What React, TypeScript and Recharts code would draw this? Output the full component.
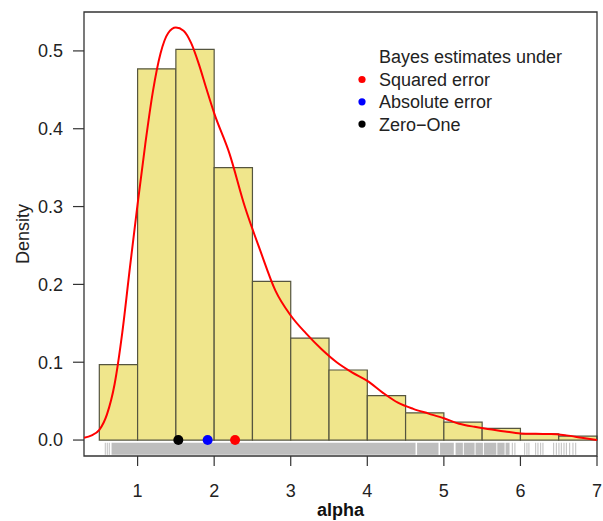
import React from 'react';
import {
    ComposedChart, XAxis, YAxis, Line, Scatter, ReferenceArea, ReferenceLine,
} from 'recharts';

// histogram bins (width 0.5) and their densities
const binStarts = [0.5, 1.0, 1.5, 2.0, 2.5, 3.0, 3.5, 4.0, 4.5, 5.0, 5.5, 6.0, 6.5];
const binDensity = [0.097, 0.477, 0.502, 0.350, 0.204, 0.131, 0.090, 0.057, 0.035, 0.023, 0.015, 0.008, 0.005];
const BIN_WIDTH = 0.5;

// kernel density estimate
const densityX = [0.3, 0.4, 0.5, 0.6, 0.7, 0.8, 0.9, 1.0, 1.1, 1.2, 1.3, 1.4, 1.5, 1.6, 1.7, 1.8, 1.9, 2.0,
    2.2, 2.4, 2.6, 2.8, 3.0, 3.2, 3.4, 3.6, 3.8, 4.0, 4.2, 4.4, 4.6, 4.8, 5.0, 5.2, 5.4, 5.6, 5.8, 6.0,
    6.2, 6.4, 6.6, 6.8, 7.0];
const densityY = [0.003, 0.006, 0.013, 0.033, 0.072, 0.138, 0.222, 0.303, 0.380, 0.448, 0.497, 0.523, 0.530,
    0.526, 0.510, 0.483, 0.451, 0.420, 0.368, 0.300, 0.244, 0.192, 0.160, 0.137, 0.117, 0.100, 0.087, 0.076,
    0.061, 0.048, 0.040, 0.034, 0.028, 0.021, 0.017, 0.014, 0.011, 0.0085, 0.008, 0.0078, 0.006, 0.003, 0.0];

// rug: dense stretches drawn as bands, sparse tail as single ticks
const rugBands = [[0.66, 4.63], [4.65, 4.93], [4.95, 5.13], [5.153, 5.248], [5.261, 5.401],
    [5.414, 5.51], [5.523, 5.685], [5.698, 5.793], [5.806, 5.858]];
const rugTicks = [0.578, 0.604, 0.63, 5.894, 5.928, 6.055, 6.085, 6.111, 6.199, 6.229, 6.264, 6.294,
    6.434, 6.469, 6.503, 6.534, 6.569, 6.6, 6.643, 6.686, 6.722];

// Bayes estimates
const estimateNames = ['Squared error', 'Absolute error', 'Zero\u2212One'];
const estimateValues = [2.273, 1.915, 1.532];
const estimateColors = ['#ff0000', '#0000ff', '#000000'];

const xTicks = [1, 2, 3, 4, 5, 6, 7];
const yTicks = [0, 0.1, 0.2, 0.3, 0.4, 0.5];

const X_DOMAIN = [0.3, 7];
const Y_DOMAIN = [-0.0205, 0.55];
const RUG_TOP = -0.0035;
const RUG_BOTTOM = -0.019;

const densityData = densityX.map((x, i) => ({ x, y: densityY[i] }));
const FONT = '"Liberation Sans", Arial, Helvetica, sans-serif';

const dot = (color: string) => (props: any) => (
    <circle cx={props.cx} cy={props.cy} r={5} fill={color} />
);

const App = () => {
    return (
        <div style={{ position: 'absolute', left: 0, top: 0, width: 603, height: 521, background: '#fff', fontFamily: FONT }}>
            <ComposedChart width={603} height={521} margin={{ top: 12, right: 6, left: 0, bottom: 0 }}>
                <XAxis
                    type="number" dataKey="x" domain={X_DOMAIN} ticks={xTicks} allowDataOverflow
                    axisLine={false} tickSize={10} tickMargin={18} height={65}
                    tick={{ fontSize: 18, fill: '#222', fontFamily: FONT }}
                    tickLine={{ stroke: '#333', strokeWidth: 1.2 }}
                    label={{ value: 'alpha', position: 'insideBottom', offset: 5, style: { fontSize: 18, fontWeight: 'bold', fill: '#111', fontFamily: FONT } }}
                />
                <YAxis
                    type="number" dataKey="y" domain={Y_DOMAIN} ticks={yTicks} allowDataOverflow
                    axisLine={false} tickSize={11} tickMargin={10} width={84}
                    tickFormatter={(v: number) => v.toFixed(1)}
                    tick={{ fontSize: 18, fill: '#222', fontFamily: FONT }}
                    tickLine={{ stroke: '#333', strokeWidth: 1.2 }}
                    label={{ value: 'Density', angle: -90, position: 'insideLeft', offset: 23, style: { textAnchor: 'middle', fontSize: 18, fill: '#222', fontFamily: FONT } }}
                />
                {binStarts.map((s, i) => (
                    <ReferenceArea key={`bin-${i}`} x1={s} x2={s + BIN_WIDTH} y1={0} y2={binDensity[i]}
                        fill="#f0e68c" fillOpacity={1} stroke="#55553f" strokeWidth={1.2} ifOverflow="visible" />
                ))}
                {rugBands.map(([a, b], i) => (
                    <ReferenceArea key={`rb-${i}`} x1={a} x2={b} y1={RUG_BOTTOM} y2={RUG_TOP}
                        fill="#bebebe" fillOpacity={1} stroke="none" ifOverflow="visible" />
                ))}
                {rugTicks.map((t, i) => (
                    <ReferenceLine key={`rt-${i}`} segment={[{ x: t, y: RUG_BOTTOM }, { x: t, y: RUG_TOP }]}
                        stroke="#bebebe" strokeWidth={1} ifOverflow="visible" />
                ))}
                <ReferenceArea x1={X_DOMAIN[0]} x2={X_DOMAIN[1]} y1={Y_DOMAIN[0]} y2={Y_DOMAIN[1]}
                    fill="none" stroke="#333" strokeWidth={1.3} ifOverflow="visible" />
                <Line data={densityData} dataKey="y" type="monotone" stroke="#ff0000" strokeWidth={2}
                    dot={false} activeDot={false} isAnimationActive={false} />
                {estimateValues.map((v, i) => (
                    <Scatter key={`est-${i}`} data={[{ x: v, y: 0 }]} dataKey="y" shape={dot(estimateColors[i])}
                        isAnimationActive={false} />
                ))}
            </ComposedChart>
            <svg width={250} height={110} style={{ position: 'absolute', left: 350, top: 35 }}>
                <text x={29} y={28} fontSize={18} fill="#222" fontFamily={FONT}>Bayes estimates under</text>
                {estimateNames.map((n, i) => (
                    <g key={n}>
                        <circle cx={12} cy={44.5 + i * 22.3} r={3.6} fill={estimateColors[i]} />
                        <text x={29} y={51 + i * 22.3} fontSize={18} fill="#222" fontFamily={FONT}>{n}</text>
                    </g>
                ))}
            </svg>
        </div>
    );
};

export default App;
